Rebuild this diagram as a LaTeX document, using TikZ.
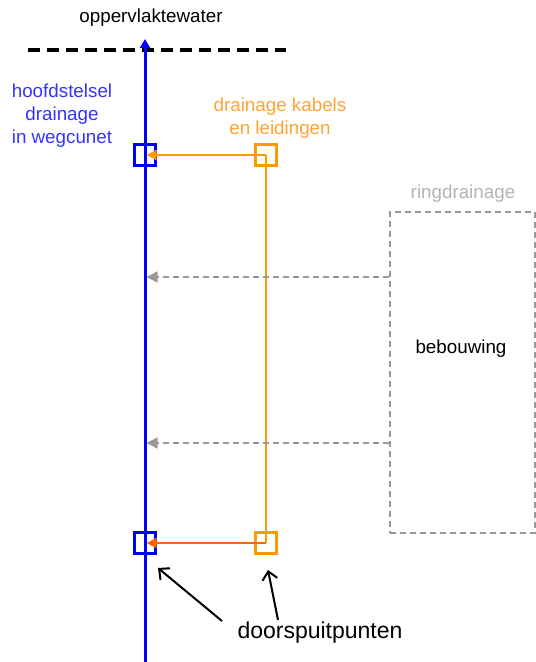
\documentclass[tikz,border=0pt]{standalone}
\usepackage{fontspec}
\setmainfont{Liberation Sans}
\usetikzlibrary{arrows.meta}
\definecolor{bblue}{HTML}{0000FF}
\definecolor{btext}{HTML}{3333FF}
\definecolor{oline}{HTML}{FF9900}
\definecolor{otext}{HTML}{FFA333}
\definecolor{ored}{HTML}{FF6600}
\definecolor{gline}{HTML}{999999}
\definecolor{gtext}{HTML}{B3B3B3}
\tikzset{
  lbl/.style={font=\fontsize{18.8}{23}\selectfont, align=center, inner sep=0pt},
  bsq/.style={draw=bblue, line width=3pt, minimum size=21pt, inner sep=0pt},
  osq/.style={draw=oline, line width=3pt, minimum size=21pt, inner sep=0pt},
  gdash/.style={draw=gline, line width=1.5pt, dash pattern=on 6pt off 4pt},
  ptr/.style={draw=black, line width=2pt, -{Straight Barb[length=8pt,width=15pt,line width=2pt]}},
}
\begin{document}
\begin{tikzpicture}[x=1pt,y=-1pt]
\useasboundingbox (0,0) rectangle (536,662);
% blue main line
\coordinate (btop) at (145,39);
\coordinate (bbot) at (145,662);
\draw[black, line width=4pt, dash pattern=on 12pt off 7pt] (28,50) -- (286,50);
\draw[bblue, line width=3pt, -{Triangle[length=9pt,width=10pt]}] (bbot) -- (btop);
\node[lbl, text=black] (ow) at (151,18) {oppervlaktewater};
\node[lbl, text=btext] (hs) at (62,116) {hoofdstelsel\\drainage\\in wegcunet};
\node[lbl, text=otext] (dk) at (280,118) {drainage kabels\\en leidingen};
% squares
\node[bsq] (b1) at (145,155) {};
\node[bsq] (b2) at (145,543) {};
\node[osq] (o1) at (266,155) {};
\node[osq] (o2) at (266,543) {};
% orange lines
\draw[oline, line width=2pt] (o1.center) -- (o2.center);
\draw[oline, line width=2pt, -{Triangle[length=10pt,width=10pt]}, shorten >=1.5pt] (o1.center) -- (b1.center);
\draw[ored, line width=2pt, -{Triangle[length=10pt,width=10pt]}, shorten >=1.5pt] (o2.center) -- (b2.center);
% building
\node[gdash, minimum width=145pt, minimum height=321pt, inner sep=0pt, anchor=north west] (bw) at (389,211) {};
\node[lbl, text=black] (bt) at (461,349) {bebouwing};
\node[lbl, text=gtext] (rd) at (463,194) {ringdrainage};
\coordinate (g1) at (bw.west |- 0,277);
\coordinate (g2) at (bw.west |- 0,443);
\draw[gdash, -{Triangle[length=11pt,width=11pt]}, shorten >=1.5pt] (g1) -- (btop |- g1);
\draw[gdash, -{Triangle[length=11pt,width=11pt]}, shorten >=1.5pt] (g2) -- (btop |- g2);
% doorspuitpunten
\node[lbl, text=black, font=\fontsize{23}{28}\selectfont] (dp) at (320,633) {doorspuitpunten};
\coordinate (p1) at (222,621);
\coordinate (p2) at (278,620);
\draw[ptr] (p1) -- (158,568);
\draw[ptr] (p2) -- (268,570);
\end{tikzpicture}
\end{document}
